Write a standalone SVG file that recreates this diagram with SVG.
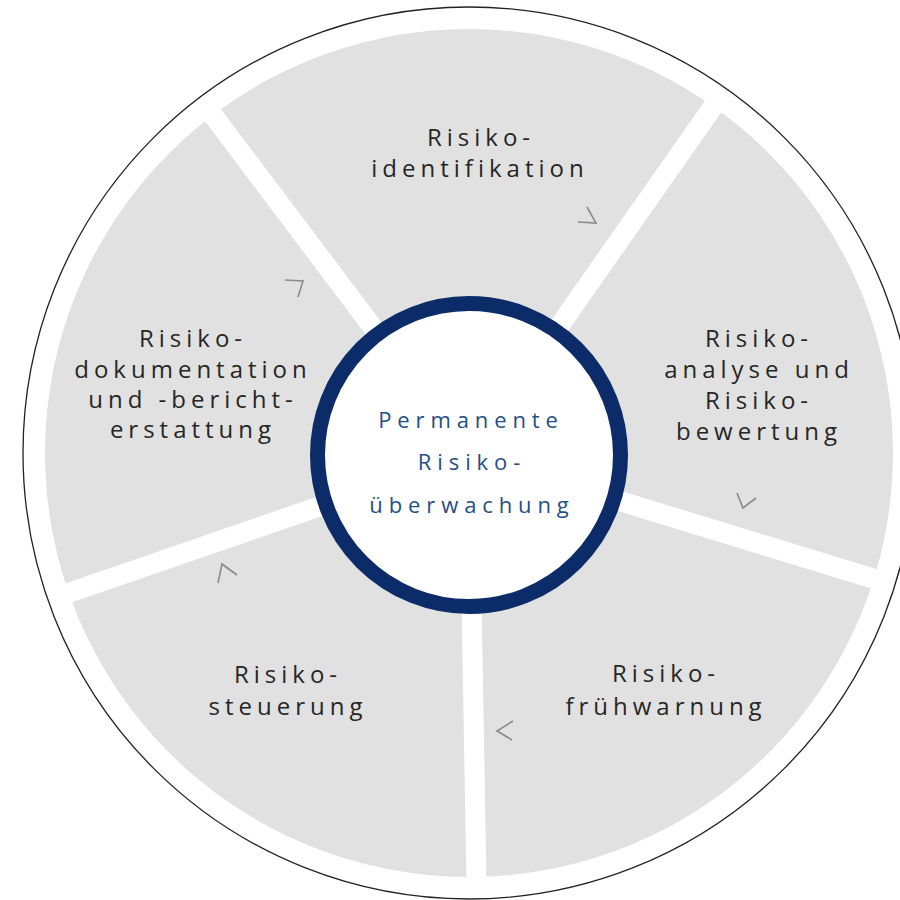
<svg xmlns="http://www.w3.org/2000/svg" width="900" height="900" viewBox="0 0 900 900">
  <style>
    .seg { fill: #e1e1e1; clip-path: url(#disk); }
    .lbl { font-family: "Open Sans", "Noto Sans", sans-serif; font-size: 24px; letter-spacing: 5px; fill: #262626; text-anchor: middle; }
    .ctr { font-family: "Open Sans", "Noto Sans", sans-serif; font-size: 22px; letter-spacing: 5.9px; fill: #1f4f88; text-anchor: middle; }
    .chev { fill: none; stroke: #8a8a8a; stroke-width: 1.6; stroke-linejoin: miter; }
  </style>
  <defs>
    <clipPath id="disk">
      <circle cx="469" cy="453" r="424"/>
    </clipPath>
  </defs>
  <rect x="0" y="0" width="900" height="900" fill="#ffffff"/>
  <circle cx="469" cy="453" r="446" fill="none" stroke="#222222" stroke-width="1.3"/>

  <g id="node-identifikation">
    <polygon class="seg" points="468.7,438 115.9,-30.2 805,-42.2"/>
    <text class="lbl" x="481" y="146">Risiko-</text>
    <text class="lbl" x="480" y="177">identifikation</text>
  </g>
  <g id="node-analyse">
    <polygon class="seg" points="485.1,449.5 821.4,-30.8 1045.7,620.8"/>
    <text class="lbl" x="759" y="347">Risiko-</text>
    <text class="lbl" x="759" y="378">analyse und</text>
    <text class="lbl" x="759" y="409">Risiko-</text>
    <text class="lbl" x="759" y="440">bewertung</text>
  </g>
  <g id="node-fruehwarnung">
    <polygon class="seg" points="479.2,468.6 1039.9,640 489.5,1054.7"/>
    <text class="lbl" x="666" y="682">Risiko-</text>
    <text class="lbl" x="666" y="715">frühwarnung</text>
  </g>
  <g id="node-steuerung">
    <polygon class="seg" points="459.2,468.9 469.5,1055.1 -95,659.9"/>
    <text class="lbl" x="288" y="683">Risiko-</text>
    <text class="lbl" x="288" y="715">steuerung</text>
  </g>
  <g id="node-dokumentation">
    <polygon class="seg" points="452.7,450 -101.6,640.9 99.9,-18.2"/>
    <text class="lbl" x="193" y="347">Risiko-</text>
    <text class="lbl" x="193" y="378">dokumentation</text>
    <text class="lbl" x="193" y="408">und -bericht-</text>
    <text class="lbl" x="193" y="438">erstattung</text>
  </g>

  <g id="node-ueberwachung">
    <circle cx="469" cy="455" r="151.5" fill="#ffffff" stroke="#0c2c69" stroke-width="15"/>
    <text class="ctr" x="471" y="428">Permanente</text>
    <text class="ctr" x="472" y="470">Risiko-</text>
    <text class="ctr" x="472" y="513">überwachung</text>
  </g>

  <g id="connectors">
    <polyline class="chev" points="587,207 596,223 578,222"/>
    <polyline class="chev" points="737,493 743,508 756,498"/>
    <polyline class="chev" points="513,721 497,731 512,740"/>
    <polyline class="chev" points="218,583 222,564 237,575"/>
    <polyline class="chev" points="285,280 303,281 298,297"/>
  </g>
</svg>
